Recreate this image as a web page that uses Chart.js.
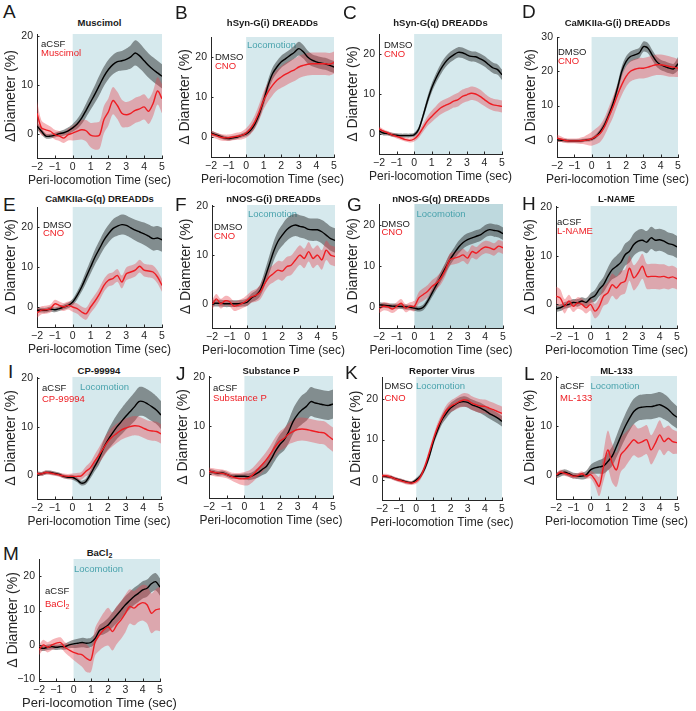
<!DOCTYPE html>
<html lang="en">
<head>
<meta charset="UTF-8">
<title>Peri-locomotion diameter changes</title>
<script src="https://cdn.jsdelivr.net/npm/chart.js"></script>
<style>
  body { margin: 0; background: #fff; }
  #fig { position: relative; width: 696px; height: 711px; overflow: hidden;
         font-family: "Liberation Sans", Arial, sans-serif; color: #1a1a1a; }
  #fig canvas { position: absolute; }
  .letter { position: absolute; font-size: 19px; line-height: 19px; }
  .ttl { position: absolute; width: 170px; text-align: center; font-size: 9.5px;
         font-weight: bold; line-height: 12px; white-space: nowrap; }
  .ttl sub { font-size: 7px; vertical-align: -2px; }
</style>
</head>
<body>
<div id="fig"></div>
<script>
// time axis (s), tick values
const time = [-2, -1.75, -1.5, -1.25, -1, -0.75, -0.5, -0.25, 0, 0.25, 0.5, 0.75, 1, 1.25, 1.5,
  1.75, 2, 2.25, 2.5, 2.75, 3, 3.25, 3.5, 3.75, 4, 4.25, 4.5, 4.75, 5];
const xTicks = [-2, -1, 0, 1, 2, 3, 4, 5];
const yTicks20 = [0, 10, 20];
const yTicks30 = [0, 10, 20, 30];
const yTicksM = [-10, 0, 10, 20];

// A Muscimol
const aCtrl = [1.6,0.5,-0.5,-0.5,-0.3,0.0,0.2,0.6,1.2,2.0,3.2,4.8,6.5,8.2,10.0,11.8,13.2,14.2,14.8,15.0,15.3,15.8,16.6,16.0,15.0,14.0,13.2,12.5,11.8];
const aCtrlErr = [0.8,0.6,0.5,0.5,0.5,0.5,0.6,0.7,0.8,1.0,1.2,1.4,1.6,1.8,2.0,2.0,2.0,2.0,2.0,2.0,2.2,2.4,2.6,2.6,2.5,2.5,2.5,2.5,2.5];
const aDrug = [4.2,1.2,0.8,0.5,-0.2,-0.5,-0.9,-0.2,0.1,0.5,0.8,0.6,-0.3,-0.5,-0.3,2.9,4.5,6.8,5.8,4.2,3.9,4.2,4.8,5.1,5.5,4.6,6.2,8.8,7.2];
const aDrugErr = [2.5,1.5,1.2,1.0,1.0,1.0,1.0,1.2,1.5,1.8,2.0,2.2,2.5,2.8,2.8,2.8,2.8,2.8,2.8,2.8,2.6,2.6,2.6,2.6,2.6,2.6,2.6,2.8,3.0];
// B hSyn-G(i)
const bCtrl = [1.0,0.6,0.2,-0.2,-0.4,-0.2,0,0.4,0.8,1.7,3.3,5.8,9.2,12.9,15.8,17.5,18.8,19.6,20.4,21.2,22.1,21.3,20,19.2,18.8,18.5,18.3,17.9,17.5];
const bCtrlErr = [0.6,0.5,0.5,0.5,0.5,0.5,0.5,0.5,0.6,0.8,1,1.2,1.3,1.4,1.5,1.5,1.5,1.5,1.5,1.6,1.7,1.7,1.6,1.5,1.5,1.5,1.5,1.5,1.5];
const bDrug = [0.8,0.4,0,-0.2,-0.2,0,0.2,0.4,1,2.1,3.8,6.3,9.2,11.3,12.9,14.2,15,15.7,16.3,16.8,17.5,17.9,18.2,18.3,18.3,18.3,18.3,18.2,18.6];
const bDrugErr = [0.8,0.8,0.8,0.8,0.8,0.8,0.9,1,1.2,1.4,1.7,2,2.2,2.4,2.5,2.6,2.7,2.8,2.8,2.8,2.8,2.8,2.8,2.8,2.8,2.8,2.8,2.8,2.8];
// C hSyn-G(q)
const cCtrl = [0.8,0.25,0.1,-0.2,-0.3,-0.4,-0.4,-0.4,-0.2,1.1,4.4,8.2,11.5,14,16.1,17.8,19,19.8,20.4,20.3,19.8,19.4,19.3,18.8,18.2,17.3,16.5,16.1,14.8];
const cCtrlErr = [0.7,0.6,0.5,0.5,0.5,0.5,0.5,0.5,0.5,0.6,0.8,1,1.1,1.2,1.3,1.3,1.3,1.3,1.3,1.3,1.3,1.3,1.3,1.3,1.3,1.3,1.3,1.3,1.3];
const cDrug = [1.25,0.7,0.25,-0.2,-0.6,-1,-1.4,-1.6,-1.25,-0.2,1.5,3.2,4.4,5.5,6.5,7.1,7.6,8.2,8.6,9.4,9.8,10.2,10,9.4,8.6,7.8,7.3,7.1,6.9];
const cDrugErr = [0.6,0.5,0.5,0.5,0.5,0.5,0.5,0.5,0.6,0.8,1,1.2,1.4,1.5,1.6,1.6,1.6,1.6,1.7,1.7,1.7,1.7,1.7,1.7,1.6,1.5,1.5,1.5,1.5];
// D CaMKIIa-G(i)
const dCtrl = [0,-0.1,-0.2,-0.3,-0.3,-0.3,-0.2,0,0.2,1,2.4,4.4,7.3,10.7,15.1,20,22.9,24.3,24.8,25.3,27.2,26.8,24.8,22.9,21.9,21.4,20.9,20.7,22.2];
const dCtrlErr = [0.6,0.5,0.5,0.5,0.5,0.5,0.5,0.5,0.5,0.6,0.8,1,1.2,1.3,1.4,1.5,1.5,1.5,1.5,1.5,1.5,1.5,1.5,1.5,1.5,1.5,1.5,1.5,2];
const dDrug = [0.5,0.2,-0.2,-0.3,-0.3,-0.3,-0.2,0,0.3,1,1.9,3.9,6.8,9.7,13.1,16.1,18.5,20,20.6,20.9,20.9,21.2,21.6,21.9,21.9,21.7,21.4,21.2,20.9];
const dDrugErr = [1,0.8,0.7,0.7,0.7,0.8,1,1.5,2,2.3,2.5,2.6,2.8,3,3,3,3,3,3,3,3,3,3,3,3,3,3,2.8,2.6];
// E CaMKIIa-G(q)
const eCtrl = [-0.8,-0.8,-0.8,-0.5,-0.7,-0.4,0,0.4,1.25,2.9,5,7.5,10,12.5,14.6,16.7,18.3,19.6,20.2,20.6,20.4,19.8,19.2,18.75,18.3,17.7,17.1,17.25,16.8];
const eCtrlErr = [0.6,0.6,0.6,0.6,0.6,0.6,0.6,0.7,0.8,1,1.2,1.5,1.7,1.9,2,2.1,2.2,2.3,2.4,2.5,2.5,2.5,2.6,2.7,2.8,2.9,3,3,3];
const eDrug = [-1.5,-0.8,-0.7,-0.4,0.8,0.4,0,0.4,0,-0.4,-1.25,-1.7,0,1.5,3.3,5.4,6.7,7.1,7.9,6.25,8.3,8.75,9.2,10.2,9.2,9,8.75,7.5,5.4];
const eDrugErr = [1.2,1,1,1,1,1,1,1,1.2,1.3,1.4,1.5,1.5,1.6,1.6,1.6,1.6,1.6,1.6,1.6,1.6,1.6,1.6,1.6,1.6,1.6,1.6,1.6,1.6];
// F nNOS-G(i)
const fCtrl = [0.1,0.1,0.1,0,0,0,0,0.1,0.3,1.2,1.7,2.8,5.2,7.9,10.7,12.8,14.1,15.2,15.9,16.2,15.9,15.7,15.3,15.2,15.2,14.8,14.1,13.4,13];
const fCtrlErr = [0.7,0.7,0.7,0.7,0.7,0.7,0.7,0.7,0.8,0.9,1,1.2,1.5,1.8,2,2.1,2.2,2.3,2.3,2.3,2.3,2.3,2.3,2.3,2.3,2.4,2.5,2.5,2.5];
const fDrug = [-0.3,1.0,0,0.6,0.4,-0.5,-0.3,0.1,0.7,1.4,1.7,2.4,4.1,5.5,6.2,6.9,6.7,7.6,7.9,9,10,9.3,10.7,9.3,10,9,11,10,9.7];
const fDrugErr = [1,1,1,1,1,1,1,1,1.1,1.2,1.3,1.5,1.6,1.7,1.8,1.9,2,2,2,2,2,2,2,2,2,2,2,2,2];
// G nNOS-G(q)
const gCtrl = [0.6,0.5,0.4,0.3,0.25,0.2,0.1,0,-0.2,-0.4,0,1.5,3.5,5.5,7.5,9.5,11.5,13.1,14.6,15.7,16.4,16.8,17.2,17.6,18.4,18.8,18.6,18.4,17.8];
const gCtrlErr = [0.7,0.6,0.6,0.6,0.6,0.6,0.6,0.6,0.6,0.6,0.7,0.8,1,1.1,1.2,1.3,1.4,1.4,1.5,1.5,1.5,1.5,1.5,1.5,1.5,1.5,1.5,1.5,1.5];
const gDrug = [-0.4,0.25,0.1,-0.4,0.25,1,-0.2,0.25,0.25,2.3,3.1,3.9,5.1,5.9,7.1,9.1,11.5,11.9,12.2,12.7,11.9,13.5,13.1,14,14.6,14.4,14,14.8,14.4];
const gDrugErr = [1,1,1,1,1,1,1,1,1.2,1.4,1.5,1.5,1.5,1.5,1.5,1.5,1.5,1.5,1.5,1.5,1.5,1.5,1.5,1.5,1.5,1.5,1.5,1.5,1.5];
// H L-NAME
const hCtrl = [-1,-0.8,-0.3,-0.1,0.3,0.2,0.6,0.3,1.2,1.7,3,4,5.7,7.1,7.8,8.6,10.2,10.9,12.3,13,13.2,12.8,13.7,13.2,13.3,13,12.5,12.3,11.8];
const hCtrlErr = [0.7,0.7,0.7,0.7,0.7,0.8,0.8,0.9,1,1.2,1.4,1.6,1.8,2,2.2,2.3,2.3,2.3,2.3,2.3,2.3,2.3,2.3,2.3,2.3,2.3,2.3,2.3,2.3];
const hDrug = [1.6,1.2,-0.5,0.6,-0.5,0.2,-0.1,-0.8,-0.1,-1.5,-0.5,1.6,2.3,4,3.3,4.3,4.7,7.4,5.4,6.4,7.8,5.7,5.7,5.7,5.6,5.7,5.4,5.6,5.2];
const hDrugErr = [2,1.8,1.5,1.3,1.2,1.2,1.2,1.2,1.3,1.5,1.7,2,2.2,2.3,2.4,2.5,2.5,2.6,2.6,2.6,2.6,2.6,2.6,2.6,2.6,2.5,2.4,2.3,2.2];
// I CP-99994
const iCtrl = [0.3,0.2,0.5,0.5,0.3,0.1,-0.3,-0.5,-0.5,-1,-1.7,-1.4,0,1.7,3.4,5.5,7.2,8.6,9.9,11,12.1,13.1,14.1,15.2,15.2,14.7,14.1,13.4,12.4];
const iCtrlErr = [0.4,0.4,0.4,0.4,0.4,0.4,0.4,0.4,0.5,0.5,0.5,0.6,0.8,1,1.3,1.6,2,2.3,2.5,2.7,2.8,2.9,3,3,3,3,3,2.9,2.9];
const iDrug = [0.3,0.2,0.5,0.4,0.2,0,-0.2,-0.3,-0.3,-0.3,-0.2,0.7,1.4,2.8,4.1,5.5,6.9,7.9,8.6,9.3,9.7,10,10.2,10.1,9.7,9.3,9.1,9,8.5];
const iDrugErr = [0.4,0.4,0.4,0.4,0.4,0.4,0.5,0.5,0.6,0.7,0.8,1,1.2,1.4,1.6,1.8,1.9,2,2,2,2,2,2,2,2,2,2,2,2];
// J Substance P
const jCtrl = [0.55,0.35,0.1,0.2,-0.1,-0.5,-0.5,-0.5,-0.5,-0.6,-0.3,0.2,0.9,1.6,3,4.7,6.1,7.1,8.8,10.9,12.3,13.3,14,15,14.7,14.5,14.3,14.2,14.5];
const jCtrlErr = [0.5,0.5,0.5,0.5,0.5,0.5,0.5,0.5,0.6,0.7,0.8,1,1.2,1.4,1.6,1.8,2,2.2,2.4,2.6,2.8,3,3,3,3,3,3,3,3];
const jDrug = [0.55,0.35,0.2,0.1,-0.1,-0.5,-0.8,-1,-1,-0.8,-0.1,0.9,1.9,3,4.3,5.7,6.8,7.4,8.3,8.8,9.2,9.3,9.2,9,8.8,8.6,8.5,7.8,7.1];
const jDrugErr = [0.8,0.8,0.8,0.8,0.8,0.8,1,1.2,1.4,1.5,1.5,1.5,1.6,1.7,1.8,1.9,2,2.1,2.2,2.3,2.4,2.4,2.4,2.4,2.4,2.4,2.4,2.5,2.5];
// K Reporter virus
const kCtrl = [1,0.8,0.7,0.3,0,-0.3,-0.6,-0.7,0,1,2.9,5.8,9.5,12.4,14.9,16.5,17.8,18.6,19.2,19.4,19.2,18.6,18.2,17.8,17.2,16.5,15.9,15.3,14.5];
const kCtrlErr = [0.4,0.4,0.4,0.4,0.4,0.4,0.4,0.4,0.5,0.6,0.7,0.8,0.9,1,1.1,1.2,1.2,1.2,1.2,1.3,1.3,1.3,1.3,1.3,1.3,1.3,1.3,1.3,1.3];
const kDrug = [1,1,0.7,0.25,-0.1,-0.4,-0.7,-0.8,-0.4,0.8,3.3,6.6,10.1,13.1,15.3,17.2,18.2,18.8,19.4,19.8,19.7,19,18.6,18.3,18.2,17.8,17.4,16.9,16.5];
const kDrugErr = [0.5,0.5,0.5,0.5,0.5,0.5,0.5,0.5,0.6,0.7,0.8,0.9,1,1.1,1.2,1.3,1.4,1.5,1.6,1.7,1.7,1.7,1.7,1.7,1.7,1.7,1.7,1.7,1.7];
// L ML-133
const lCtrl = [-0.2,0.2,0.5,0.2,-0.2,-0.3,-0.3,0,1,1.4,1.6,1.8,2.7,3.8,5.8,7.9,9.9,11.6,13,13.7,13.9,14,14,14.2,14.4,14,13.4,12.5,11.8];
const lCtrlErr = [0.6,0.6,0.6,0.6,0.6,0.6,0.7,0.8,1,1.2,1.4,1.6,1.8,2,2.2,2.4,2.5,2.6,2.6,2.6,2.6,2.6,2.6,2.6,2.6,2.6,2.5,2.4,2.3];
const lDrug = [-0.2,0.5,0.3,0,-0.3,-0.2,0.2,-0.3,0,-1,-2.4,1.7,5.1,2.4,1,4.1,5.1,6.2,7.2,6.5,6.8,7.2,5.1,6.5,8.2,6.8,7.5,6.8,6.6];
const lDrugErr = [0.5,0.5,0.5,0.5,0.5,0.5,0.5,0.5,0.8,1.2,2,3,4,4,3.5,3.5,3.5,3.3,3.2,3,3,3,3,3,3,2.8,2.6,2.5,2.3];
// M BaCl2
const mCtrl = [-0.7,-1,-0.7,-0.5,-0.7,-0.5,-0.5,0,0.3,0.5,0.7,0.5,0.7,1.9,4.2,4.9,5.8,7.3,8.7,10.2,11.7,12.9,14.1,15,16,16.5,17.8,18.4,16.8];
const mCtrlErr = [0.8,0.8,0.8,0.8,0.8,0.8,0.9,1,1.2,1.3,1.4,1.4,1.4,1.5,1.6,1.8,2,2.2,2.4,2.5,2.5,2.5,2.5,2.5,2.5,2.5,2.5,2.5,2.5];
const mDrug = [-1.5,0,-0.7,0,0.5,0.7,-0.7,-1.5,-2.2,-2.6,-2.9,-3.9,-4.4,1,2.9,4.4,5.3,3.9,5.8,7.3,9.2,11.2,10.7,11.7,12.3,11.7,9.2,10.2,10.5];
const mDrugErr = [1.5,1.5,1.5,1.5,1.5,1.5,1.5,1.8,2.2,2.8,3.5,4,3.5,4,4.5,5,5.5,5.5,5.5,5.5,5.5,5,5,5,5.2,5.5,5.8,6,6.5];

const FONT = '"Liberation Sans", Arial, sans-serif';
const AXIS = '#262626';
const RED = '#ee1d23';
const TEAL = '#4aa3ad';
const SHADE = '#d6e9ed';

// area = [left, top, right, bottom] of the plot box in page pixels
const panels = [
  {id: 'A', title: 'Muscimol', ctrl: aCtrl, ctrlErr: aCtrlErr, drug: aDrug, drugErr: aDrugErr,
   yMin: -5, yMax: 20.5, yTicks: yTicks20, area: [37, 34, 162, 158], letter: [3, 4], titleY: 23,
   yTitle: '\u0394Diameter (%)',
   labels: [{text: 'aCSF', c: 'k', dx: 4, dy: 10}, {text: 'Muscimol', c: 'r', dx: 4, dy: 19.5}]},
  {id: 'B', title: 'hSyn-G(i) DREADDs', ctrl: bCtrl, ctrlErr: bCtrlErr, drug: bDrug, drugErr: bDrugErr,
   yMin: -5, yMax: 25, yTicks: yTicks20, area: [211, 37, 334, 157], letter: [175, 5], titleY: 23,
   labels: [{text: 'DMSO', c: 'k', dx: 4, dy: 20}, {text: 'CNO', c: 'r', dx: 4, dy: 29},
            {text: 'Locomotion', c: 't', dx: 36, dy: 8}]},
  {id: 'C', title: 'hSyn-G(q) DREADDs', ctrl: cCtrl, ctrlErr: cCtrlErr, drug: cDrug, drugErr: cDrugErr,
   yMin: -5, yMax: 25, yTicks: yTicks20, area: [379, 34, 502, 154], letter: [343, 5], titleY: 23,
   labels: [{text: 'DMSO', c: 'k', dx: 5, dy: 11.5}, {text: 'CNO', c: 'r', dx: 5, dy: 20.5}]},
  {id: 'D', title: 'CaMKIIa-G(i) DREADDs', ctrl: dCtrl, ctrlErr: dCtrlErr, drug: dDrug, drugErr: dDrugErr,
   yMin: -5, yMax: 30, yTicks: yTicks30, area: [557, 37, 678, 157], letter: [522, 4], titleY: 23,
   labels: [{text: 'DMSO', c: 'k', dx: 1, dy: 15.5}, {text: 'CNO', c: 'r', dx: 1, dy: 24}]},
  {id: 'E', title: 'CaMKIIa-G(q) DREADDs', ctrl: eCtrl, ctrlErr: eCtrlErr, drug: eDrug, drugErr: eDrugErr,
   yMin: -5, yMax: 25, yTicks: yTicks20, area: [37, 207, 162, 327], letter: [3, 197], titleY: 199,
   labels: [{text: 'DMSO', c: 'k', dx: 6, dy: 18}, {text: 'CNO', c: 'r', dx: 6, dy: 26.5}]},
  {id: 'F', title: 'nNOS-G(i) DREADDs', ctrl: fCtrl, ctrlErr: fCtrlErr, drug: fDrug, drugErr: fDrugErr,
   yMin: -5, yMax: 20.3, yTicks: yTicks20, area: [212, 205, 335, 328], letter: [175, 197], titleY: 199,
   labels: [{text: 'DMSO', c: 'k', dx: 2, dy: 22}, {text: 'CNO', c: 'r', dx: 2, dy: 31.5},
            {text: 'Locomotion', c: 't', dx: 36, dy: 9}]},
  {id: 'G', title: 'nNOS-G(q) DREADDs', ctrl: gCtrl, ctrlErr: gCtrlErr, drug: gDrug, drugErr: gDrugErr,
   yMin: -5, yMax: 25, yTicks: yTicks20, area: [379, 204, 503, 328], letter: [347, 197], titleY: 199,
   shade: '#bed9de',
   labels: [{text: 'DMSO', c: 'k', dx: 2.5, dy: 20}, {text: 'CNO', c: 'r', dx: 2.5, dy: 28.5},
            {text: 'Locomotion', c: 't', dx: 37.5, dy: 10}]},
  {id: 'H', title: 'L-NAME', ctrl: hCtrl, ctrlErr: hCtrlErr, drug: hDrug, drugErr: hDrugErr,
   yMin: -5, yMax: 20.3, yTicks: yTicks20, area: [556, 206, 677, 328], letter: [522, 196], titleY: 199,
   labels: [{text: 'aCSF', c: 'k', dx: 1, dy: 16.5}, {text: 'L-NAME', c: 'r', dx: 1, dy: 25.5}]},
  {id: 'I', title: 'CP-99994', ctrl: iCtrl, ctrlErr: iCtrlErr, drug: iDrug, drugErr: iDrugErr,
   yMin: -5, yMax: 20.3, yTicks: yTicks20, area: [37, 377, 161, 499], letter: [8, 364], titleY: 371,
   labels: [{text: 'aCSF', c: 'k', dx: 5, dy: 11}, {text: 'CP-99994', c: 'r', dx: 5, dy: 22},
            {text: 'Locomotion', c: 't', dx: 43, dy: 10}]},
  {id: 'J', title: 'Substance P', ctrl: jCtrl, ctrlErr: jCtrlErr, drug: jDrug, drugErr: jDrugErr,
   yMin: -5, yMax: 20.3, yTicks: yTicks20, area: [209, 376, 333, 498], letter: [176, 366], titleY: 371,
   labels: [{text: 'aCSF', c: 'k', dx: 4, dy: 12}, {text: 'Substance P', c: 'r', dx: 4, dy: 22}]},
  {id: 'K', title: 'Reporter Virus', ctrl: kCtrl, ctrlErr: kCtrlErr, drug: kDrug, drugErr: kDrugErr,
   yMin: -5, yMax: 25.5, yTicks: yTicks20, area: [382, 377, 502, 500], letter: [345, 365], titleY: 371,
   labels: [{text: 'DMSO', c: 'k', dx: 2.5, dy: 9.5}, {text: 'CNO', c: 'r', dx: 2.5, dy: 21},
            {text: 'Locomotion', c: 't', dx: 34, dy: 9.5}]},
  {id: 'L', title: 'ML-133', ctrl: lCtrl, ctrlErr: lCtrlErr, drug: lDrug, drugErr: lDrugErr,
   yMin: -5, yMax: 20.3, yTicks: yTicks20, area: [556, 376, 677, 499], letter: [524, 366], titleY: 371,
   labels: [{text: 'aCSF', c: 'k', dx: 4, dy: 10.5}, {text: 'ML-133', c: 'r', dx: 4, dy: 22},
            {text: 'Locomotion', c: 't', dx: 34.5, dy: 10.5}]},
  {id: 'M', title: 'BaCl<sub>2</sub>', ctrl: mCtrl, ctrlErr: mCtrlErr, drug: mDrug, drugErr: mDrugErr,
   yMin: -10.5, yMax: 25, yTicks: yTicksM, area: [39, 559, 160, 681], letter: [3, 546], titleY: 553,
   xTitleSize: 13,
   labels: [{text: 'aCSF', c: 'k', dx: 6, dy: 32.5}, {text: 'BaCl', sub: '2', c: 'r', dx: 6, dy: 45},
            {text: 'Locomotion', c: 't', dx: 35, dy: 10}]}
];

const labelColors = {k: '#1a1a1a', r: RED, t: TEAL};

// shaded locomotion window, in-plot labels, inward ticks and x title
const decor = {
  id: 'decor',
  beforeDraw(chart, args, opts) {
    const {ctx, chartArea: a, scales: {x}} = chart;
    const x0 = x.getPixelForValue(0), x1 = x.getPixelForValue(5);
    ctx.save();
    ctx.fillStyle = opts.shade;
    ctx.fillRect(x0, a.top, x1 - x0, a.bottom - a.top);
    ctx.restore();
  },
  beforeDatasetsDraw(chart, args, opts) {
    const {ctx, chartArea: a} = chart;
    ctx.save();
    ctx.textBaseline = 'middle';
    ctx.textAlign = 'left';
    opts.labels.forEach(l => {
      ctx.font = '9.5px ' + FONT;
      ctx.fillStyle = labelColors[l.c];
      const x = a.left + l.dx, y = a.top + l.dy;
      ctx.fillText(l.text, x, y);
      if (l.sub) {
        const w = ctx.measureText(l.text).width;
        ctx.font = '7px ' + FONT;
        ctx.fillText(l.sub, x + w, y + 3);
      }
    });
    ctx.restore();
  },
  afterDraw(chart, args, opts) {
    const {ctx, chartArea: a, scales: {x, y}} = chart;
    ctx.save();
    ctx.strokeStyle = AXIS;
    ctx.lineWidth = 1;
    ctx.beginPath();
    x.ticks.forEach(t => {
      const px = Math.round(x.getPixelForValue(t.value)) + 0.5;
      ctx.moveTo(px, a.bottom); ctx.lineTo(px, a.bottom - 2.5);
    });
    y.ticks.forEach(t => {
      const py = Math.round(y.getPixelForValue(t.value)) + 0.5;
      ctx.moveTo(a.left, py); ctx.lineTo(a.left + 2.5, py);
    });
    ctx.stroke();
    ctx.fillStyle = AXIS;
    ctx.font = opts.xTitleSize + 'px ' + FONT;
    ctx.textAlign = 'center';
    ctx.textBaseline = 'middle';
    ctx.fillText('Peri-locomotion Time (sec)', (a.left + a.right) / 2, a.bottom + 22.5);
    ctx.restore();
  }
};

Chart.defaults.font.family = FONT;

const fig = document.getElementById('fig');
const padL = 34, padT = 12, padR = 24, padB = 32;

function addDiv(cls, html, left, top) {
  const d = document.createElement('div');
  d.className = cls;
  d.innerHTML = html;
  d.style.left = left + 'px';
  d.style.top = top + 'px';
  fig.appendChild(d);
}

function makePanel(p) {
  const [L, T, R, B] = p.area;
  addDiv('letter', p.id, p.letter[0], p.letter[1] - 2.5);
  addDiv('ttl', p.title, (L + R) / 2 - 85, p.titleY - 6);

  const cv = document.createElement('canvas');
  cv.width = R - L + padL + padR;
  cv.height = B - T + padT + padB;
  cv.style.left = (L - padL) + 'px';
  cv.style.top = (T - padT) + 'px';
  fig.appendChild(cv);

  const line = m => time.map((t, i) => ({x: t, y: m[i]}));
  const edge = (m, e, s) => time.map((t, i) => ({x: t, y: m[i] + s * e[i]}));
  const bandOpts = {borderColor: 'rgba(0,0,0,0)', borderWidth: 1, pointRadius: 0, tension: 0.3};

  new Chart(cv, {
    type: 'line',
    data: {
      datasets: [
        {...bandOpts, data: edge(p.ctrl, p.ctrlErr, 1), fill: false, order: 3},
        {...bandOpts, data: edge(p.ctrl, p.ctrlErr, -1), fill: '-1', backgroundColor: 'rgba(45,50,50,0.5)', order: 3},
        {...bandOpts, data: edge(p.drug, p.drugErr, 1), fill: false, order: 2},
        {...bandOpts, data: edge(p.drug, p.drugErr, -1), fill: '-1', backgroundColor: 'rgba(232,60,72,0.38)', order: 2},
        {data: line(p.ctrl), borderColor: '#000', borderWidth: 1.4, pointRadius: 0, tension: 0.3, fill: false, order: 1},
        {data: line(p.drug), borderColor: RED, borderWidth: 1.4, pointRadius: 0, tension: 0.3, fill: false, order: 0}
      ]
    },
    options: {
      responsive: false,
      animation: false,
      events: [],
      layout: {padding: {left: 0, top: padT, right: padR, bottom: 0}},
      plugins: {
        legend: {display: false},
        tooltip: {enabled: false},
        decor: {shade: p.shade || SHADE, labels: p.labels, xTitleSize: p.xTitleSize || 12}
      },
      scales: {
        x: {
          type: 'linear', min: -2, max: 5,
          grid: {display: false, drawTicks: false},
          border: {color: AXIS, width: 1},
          afterBuildTicks: s => { s.ticks = xTicks.map(v => ({value: v})); },
          ticks: {padding: 3, color: AXIS, font: {size: 10.5}, autoSkip: false, maxRotation: 0,
                  callback: v => String(v).replace('-', '\u2212')},
          afterFit: s => { s.height = padB; }
        },
        y: {
          min: p.yMin, max: p.yMax,
          grid: {display: false, drawTicks: false},
          border: {color: AXIS, width: 1},
          afterBuildTicks: s => { s.ticks = p.yTicks.map(v => ({value: v})); },
          ticks: {padding: 4, color: AXIS, font: {size: 10.5},
                  callback: v => String(v).replace('-', '\u2212')},
          title: {display: true, text: p.yTitle || '\u0394 Diameter (%)', color: AXIS,
                  font: {size: 14}, padding: {top: 0, bottom: 0}},
          afterFit: s => { s.width = padL; }
        }
      }
    },
    plugins: [decor]
  });
}

panels.forEach(makePanel);
</script>
</body>
</html>
